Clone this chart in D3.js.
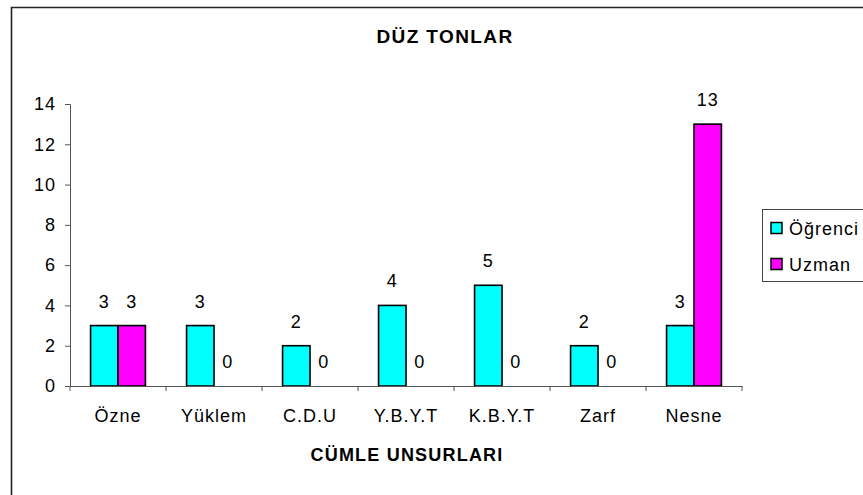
<!DOCTYPE html>
<html>
<head>
<meta charset="utf-8">
<script src="https://cdn.jsdelivr.net/npm/d3@7"></script>
<style>
  body { margin: 0; background: #fff; }
  svg { display: block; font-family: "Liberation Sans", Arial, sans-serif; }
</style>
</head>
<body>
<svg width="863" height="495"></svg>
<script>
const categories = ["Özne", "Yüklem", "C.D.U", "Y.B.Y.T", "K.B.Y.T", "Zarf", "Nesne"];
const seriesNames = ["Öğrenci", "Uzman"];
const ogrenci = [3, 3, 2, 4, 5, 2, 3];
const uzman = [3, 0, 0, 0, 0, 0, 13];
const yTicks = [0, 2, 4, 6, 8, 10, 12, 14];
const colors = ["#00ffff", "#ff00ff"];

const svg = d3.select("svg");

// outer chart frame (runs off the right / bottom edge)
svg.append("path")
  .attr("d", "M11.5,498V7.5H870")
  .attr("fill", "none")
  .attr("stroke", "#222")
  .attr("stroke-width", 1.6);

const x0 = d3.scaleBand().domain(categories).range([70, 742]);
const x1 = d3.scaleBand().domain(seriesNames).range([0, x0.bandwidth()])
  .paddingInner(0).paddingOuter(0.75);
const y = d3.scaleLinear().domain([0, 14]).range([386, 104]);

const rows = categories.map((c, i) => ({ cat: c, vals: [ogrenci[i], uzman[i]] }));

// y axis
const yAxis = svg.append("g")
  .attr("transform", "translate(70,0)")
  .call(d3.axisLeft(y).tickValues(yTicks).tickSize(5).tickPadding(9));
yAxis.select(".domain").attr("stroke", "#555");
yAxis.selectAll(".tick line").attr("stroke", "#555");
yAxis.selectAll("text").attr("font-size", 18).attr("fill", "#000")
  .attr("letter-spacing", 1)
  .attr("font-family", "Liberation Sans, Arial, sans-serif");

// bars
const grp = svg.append("g").selectAll("g")
  .data(rows).join("g")
  .attr("transform", d => `translate(${x0(d.cat)},0)`);

grp.selectAll("rect")
  .data(d => d.vals.map((v, k) => ({ s: seriesNames[k], v, k })))
  .join("rect")
  .filter(d => d.v > 0)
  .attr("x", d => x1(d.s))
  .attr("y", d => y(d.v))
  .attr("width", x1.bandwidth())
  .attr("height", d => y(0) - y(d.v))
  .attr("fill", d => colors[d.k])
  .attr("stroke", "#000")
  .attr("stroke-width", 1.6);

grp.selectAll("text")
  .data(d => d.vals.map((v, k) => ({ s: seriesNames[k], v, k })))
  .join("text")
  .attr("x", d => x1(d.s) + x1.bandwidth() / 2)
  .attr("y", d => y(d.v) - 18)
  .attr("text-anchor", "middle")
  .attr("font-size", 18)
  .attr("letter-spacing", 1)
  .text(d => d.v);

// x axis
const xAxis = svg.append("g")
  .attr("transform", "translate(0,386)")
  .call(d3.axisBottom(x0).tickSize(0).tickPadding(23));
xAxis.select(".domain").attr("stroke", "#555");
xAxis.selectAll("text").attr("font-size", 18).attr("fill", "#000")
  .attr("letter-spacing", 1)
  .attr("font-family", "Liberation Sans, Arial, sans-serif");
// tick marks between categories
svg.append("g").selectAll("line")
  .data(categories.concat([null]))
  .join("line")
  .attr("x1", (d, i) => 70 + i * x0.step())
  .attr("x2", (d, i) => 70 + i * x0.step())
  .attr("y1", 386).attr("y2", 391)
  .attr("stroke", "#555");

// titles
svg.append("text")
  .attr("x", 445).attr("y", 43)
  .attr("text-anchor", "middle")
  .attr("font-size", 19).attr("font-weight", "bold")
  .attr("letter-spacing", 1.4)
  .text("DÜZ TONLAR");

svg.append("text")
  .attr("x", 407).attr("y", 461)
  .attr("text-anchor", "middle")
  .attr("font-size", 18).attr("font-weight", "bold")
  .attr("letter-spacing", 1.2)
  .text("CÜMLE UNSURLARI");

// legend
const legend = svg.append("g").attr("transform", "translate(762,209)");
legend.append("rect")
  .attr("x", 0.5).attr("y", 0.5)
  .attr("width", 120).attr("height", 72)
  .attr("fill", "#fff").attr("stroke", "#444").attr("stroke-width", 1);
seriesNames.forEach((s, i) => {
  const row = legend.append("g").attr("transform", `translate(0,${19 + i * 36})`);
  row.append("rect")
    .attr("x", 9).attr("y", -5.5).attr("width", 11).attr("height", 11)
    .attr("fill", colors[i]).attr("stroke", "#000").attr("stroke-width", 1.5);
  row.append("text")
    .attr("x", 27).attr("y", 6.5)
    .attr("font-size", 18)
    .attr("letter-spacing", 1)
    .text(s);
});
</script>
</body>
</html>
